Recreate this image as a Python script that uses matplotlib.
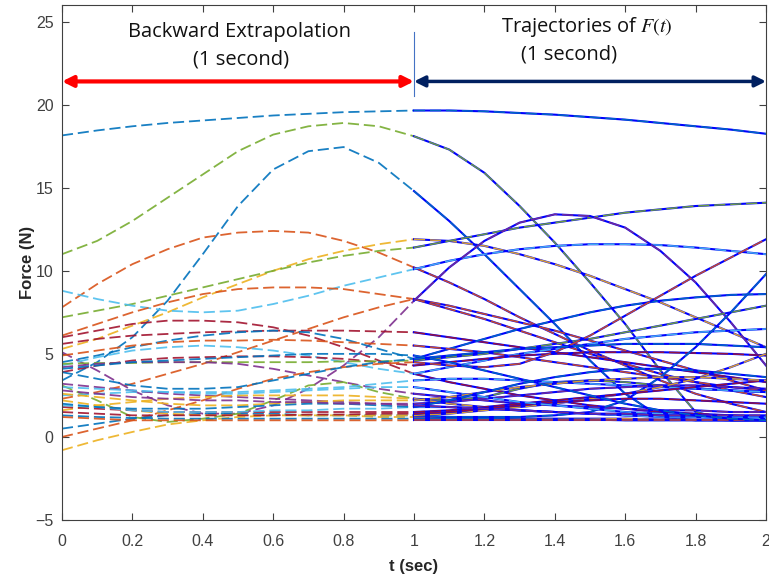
import numpy as np
import matplotlib
matplotlib.use('Agg')
import matplotlib.pyplot as plt

plt.rcParams['lines.scale_dashes'] = False
plt.rcParams['mathtext.fontset'] = 'stix'

# MATLAB default line colours
mcol = {'b': '#0072BD', 'o': '#D95319', 'y': '#EDB120', 'p': '#7E2F8E',
        'g': '#77AC30', 'c': '#4DBEEE', 'm': '#A2142F'}

# time grid of the two parts (backward extrapolation / trajectory)
t_back = [0.0, 0.1, 0.2, 0.3, 0.4, 0.5, 0.6, 0.7, 0.8, 0.9, 1.0]
t_fwd = [1.0, 1.1, 1.2, 1.3, 1.4, 1.5, 1.6, 1.7, 1.8, 1.9, 2.0]

# colour of each curve
curve_colors = ['b', 'g', 'b', 'o', 'y', 'g', 'c', 'o', 'o', 'p',
                'm', 'm', 'b', 'o', 'c', 'm', 'g', 'p', 'o', 'y',
                'b', 'g', 'b', 'c', 'p', 'y', 'y', 'm', 'c', 'b',
                'o', 'm', 'c', 'y', 'b', 'p', 'b']

# force, t = 0 .. 1 (dashed part)
backward = [
    [18.15, 18.45, 18.7, 18.9, 19.05, 19.2, 19.35, 19.45, 19.55, 19.6, 19.65],
    [11.0, 11.8, 13.0, 14.4, 15.8, 17.2, 18.2, 18.7, 18.9, 18.7, 18.1],
    [3.4, 4.5, 6.0, 8.2, 11.0, 13.9, 16.1, 17.2, 17.45, 16.5, 14.8],
    [7.8, 9.2, 10.4, 11.3, 12.0, 12.3, 12.4, 12.3, 11.8, 11.1, 10.2],
    [5.3, 5.9, 6.7, 7.5, 8.4, 9.2, 10.0, 10.7, 11.2, 11.6, 11.9],
    [7.2, 7.6, 8.0, 8.5, 9.0, 9.5, 10.0, 10.5, 10.9, 11.2, 11.4],
    [8.8, 8.3, 7.9, 7.6, 7.5, 7.6, 8.0, 8.5, 9.1, 9.6, 10.1],
    [6.1, 6.8, 7.5, 8.1, 8.6, 8.9, 9.0, 9.0, 8.9, 8.6, 8.3],
    [2.3, 2.7, 3.2, 3.8, 4.4, 5.1, 5.8, 6.5, 7.2, 7.8, 8.3],
    [5.1, 4.0, 2.8, 1.9, 1.4, 1.4, 1.9, 2.9, 4.3, 6.0, 8.2],
    [6.0, 6.4, 6.8, 7.0, 7.0, 6.9, 6.6, 6.1, 5.4, 4.6, 3.8],
    [5.6, 5.9, 6.1, 6.2, 6.3, 6.35, 6.4, 6.4, 6.4, 6.35, 6.3],
    [4.5, 4.9, 5.4, 5.8, 6.1, 6.3, 6.4, 6.3, 5.9, 5.3, 4.7],
    [4.9, 5.2, 5.5, 5.7, 5.8, 5.8, 5.85, 5.8, 5.7, 5.6, 5.5],
    [4.3, 4.8, 5.2, 5.4, 5.5, 5.4, 5.2, 4.9, 4.5, 4.1, 3.8],
    [3.9, 4.3, 4.6, 4.75, 4.8, 4.85, 4.85, 4.8, 4.7, 4.5, 4.3],
    [4.4, 4.45, 4.45, 4.5, 4.5, 4.5, 4.5, 4.5, 4.55, 4.55, 4.6],
    [4.2, 4.4, 4.5, 4.5, 4.5, 4.4, 4.1, 3.7, 3.3, 2.9, 2.6],
    [0.0, 0.5, 1.0, 1.6, 2.2, 2.9, 3.5, 3.9, 4.2, 4.4, 4.5],
    [-0.8, -0.2, 0.3, 0.75, 1.0, 1.2, 1.3, 1.3, 1.3, 1.2, 1.2],
    [0.5, 0.8, 1.1, 1.3, 1.4, 1.4, 1.4, 1.3, 1.3, 1.3, 1.3],
    [3.1, 2.2, 1.2, 0.9, 1.1, 1.4, 2.2, 3.1, 3.3, 2.7, 2.3],
    [3.9, 3.5, 3.1, 2.9, 2.9, 3.0, 3.4, 3.8, 4.2, 4.5, 4.7],
    [2.5, 2.6, 2.7, 2.7, 2.7, 2.7, 2.8, 2.9, 3.0, 3.2, 3.4],
    [3.2, 3.0, 2.8, 2.6, 2.5, 2.4, 2.3, 2.2, 2.1, 2.0, 2.0],
    [1.6, 1.9, 2.1, 2.3, 2.4, 2.5, 2.5, 2.5, 2.5, 2.4, 2.3],
    [2.2, 1.9, 1.6, 1.4, 1.3, 1.3, 1.3, 1.3, 1.3, 1.3, 1.3],
    [1.8, 1.7, 1.6, 1.5, 1.5, 1.5, 1.5, 1.5, 1.5, 1.5, 1.5],
    [1.9, 1.8, 1.6, 1.5, 1.5, 1.5, 1.6, 1.6, 1.7, 1.7, 1.8],
    [1.3, 1.2, 1.15, 1.1, 1.1, 1.1, 1.1, 1.1, 1.1, 1.1, 1.1],
    [1.2, 1.1, 1.0, 1.0, 1.0, 1.0, 1.0, 1.0, 1.0, 1.0, 1.0],
    [1.5, 1.4, 1.3, 1.3, 1.3, 1.3, 1.3, 1.35, 1.35, 1.4, 1.4],
    [3.0, 2.9, 2.8, 2.7, 2.6, 2.6, 2.7, 2.8, 2.9, 3.0, 3.0],
    [2.6, 2.4, 2.2, 2.0, 1.9, 1.9, 2.0, 2.1, 2.2, 2.2, 2.2],
    [2.0, 1.8, 1.7, 1.7, 1.7, 1.8, 1.9, 2.0, 2.0, 1.9, 1.8],
    [2.8, 2.6, 2.4, 2.3, 2.2, 2.2, 2.1, 2.1, 2.0, 2.0, 1.9],
    [4.1, 4.3, 4.5, 4.6, 4.7, 4.8, 4.9, 5.0, 5.0, 5.0, 4.9],
]

# force, t = 1 .. 2 (trajectory part)
forward = [
    [19.65, 19.65, 19.6, 19.5, 19.4, 19.25, 19.1, 18.9, 18.7, 18.5, 18.25],
    [18.1, 17.3, 15.9, 13.9, 11.7, 9.3, 6.8, 4.0, 1.5, 1.0, 1.0],
    [14.8, 13.0, 11.0, 8.9, 6.8, 4.6, 2.6, 1.2, 1.0, 1.0, 1.0],
    [10.2, 9.3, 8.3, 7.2, 6.2, 5.2, 4.3, 3.4, 2.6, 2.0, 1.5],
    [11.9, 11.8, 11.5, 11.0, 10.4, 9.7, 8.9, 8.1, 7.2, 6.3, 5.4],
    [11.4, 11.8, 12.2, 12.6, 12.9, 13.2, 13.5, 13.7, 13.9, 14.0, 14.1],
    [10.1, 10.6, 11.0, 11.3, 11.5, 11.6, 11.6, 11.55, 11.4, 11.2, 11.0],
    [8.3, 7.9, 7.4, 6.9, 6.4, 5.8, 5.2, 4.6, 4.0, 3.4, 2.8],
    [8.3, 7.7, 7.1, 6.4, 5.7, 5.0, 4.4, 3.8, 3.3, 2.8, 2.4],
    [8.2, 10.2, 11.8, 12.9, 13.4, 13.3, 12.6, 11.2, 9.3, 6.9, 4.3],
    [3.8, 3.3, 2.9, 2.5, 2.2, 1.9, 1.7, 1.5, 1.4, 1.3, 1.2],
    [6.3, 6.0, 5.7, 5.4, 5.1, 4.8, 4.5, 4.2, 3.9, 3.6, 3.3],
    [4.7, 5.3, 5.9, 6.5, 7.0, 7.5, 7.9, 8.2, 8.4, 8.55, 8.6],
    [5.5, 5.3, 5.1, 4.8, 4.5, 4.2, 3.9, 3.6, 3.3, 3.0, 2.8],
    [3.8, 4.2, 4.6, 5.0, 5.3, 5.6, 5.9, 6.1, 6.3, 6.4, 6.5],
    [4.3, 4.5, 4.7, 4.9, 5.0, 5.1, 5.1, 5.1, 5.05, 5.0, 4.9],
    [4.6, 4.8, 5.0, 5.3, 5.6, 5.9, 6.3, 6.7, 7.1, 7.5, 7.9],
    [2.6, 2.4, 2.2, 2.0, 1.9, 1.8, 1.7, 1.6, 1.6, 1.5, 1.5],
    [4.5, 4.3, 4.2, 4.4, 5.1, 6.1, 7.3, 8.5, 9.7, 10.8, 11.9],
    [1.2, 1.2, 1.15, 1.1, 1.1, 1.1, 1.1, 1.05, 1.05, 1.0, 1.0],
    [1.3, 1.2, 1.2, 1.2, 1.3, 1.5, 2.2, 3.6, 5.4, 7.5, 9.8],
    [2.3, 2.2, 2.4, 2.9, 3.3, 3.4, 3.3, 3.1, 2.9, 2.8, 2.7],
    [4.7, 4.9, 5.1, 5.3, 5.4, 5.5, 5.6, 5.6, 5.6, 5.5, 5.4],
    [3.4, 3.5, 3.5, 3.4, 3.3, 3.2, 3.1, 3.0, 2.9, 2.8, 2.7],
    [2.0, 2.1, 2.3, 2.5, 2.7, 2.9, 3.0, 3.1, 3.1, 3.0, 2.9],
    [2.3, 2.0, 1.8, 1.6, 1.5, 1.4, 1.3, 1.3, 1.2, 1.2, 1.2],
    [1.3, 1.4, 1.6, 1.8, 2.0, 2.3, 2.6, 3.0, 3.5, 4.2, 5.0],
    [1.5, 1.6, 1.8, 2.0, 2.2, 2.4, 2.6, 2.8, 3.0, 3.2, 3.4],
    [1.8, 1.8, 1.7, 1.6, 1.5, 1.4, 1.3, 1.2, 1.2, 1.1, 1.1],
    [1.1, 1.1, 1.1, 1.05, 1.05, 1.05, 1.0, 1.0, 1.0, 1.0, 1.0],
    [1.0, 1.0, 1.0, 1.0, 1.0, 1.0, 1.0, 1.0, 1.0, 1.0, 1.0],
    [1.4, 1.5, 1.7, 1.9, 2.1, 2.2, 2.3, 2.3, 2.2, 2.1, 2.0],
    [3.0, 2.7, 2.4, 2.1, 1.9, 1.7, 1.5, 1.4, 1.3, 1.2, 1.2],
    [2.2, 2.4, 2.7, 3.0, 3.2, 3.4, 3.5, 3.6, 3.6, 3.5, 3.4],
    [1.8, 2.2, 2.7, 3.2, 3.6, 3.9, 4.1, 4.1, 4.0, 3.8, 3.6],
    [1.9, 1.8, 1.7, 1.6, 1.5, 1.4, 1.4, 1.3, 1.3, 1.3, 1.3],
    [4.9, 4.5, 4.0, 3.5, 3.0, 2.5, 2.0, 1.6, 1.3, 1.1, 1.0],
]

x_ticks = [0, 0.2, 0.4, 0.6, 0.8, 1.0, 1.2, 1.4, 1.6, 1.8, 2.0]
x_ticklabels = ['0', '0.2', '0.4', '0.6', '0.8', '1', '1.2', '1.4', '1.6', '1.8', '2']
y_ticks = [-5, 0, 5, 10, 15, 20, 25]
arrow_y = 21.4

fig = plt.figure(figsize=(7.69, 5.77), dpi=100)
ax = fig.add_axes([0.0806, 0.0988, 0.9155, 0.8925])

dash = (0, (8, 3.5))
for c, fb in zip(curve_colors, backward):
    ax.plot(t_back, fb, color=mcol[c], lw=1.3, linestyle=dash, alpha=0.9)

for c, ff in zip(curve_colors, forward):
    ax.plot(t_fwd, ff, color='#0000FF', lw=1.5)
    ax.plot(t_fwd, ff, color=mcol[c], lw=1.1, linestyle=dash, alpha=0.9)

# arrows and separator
ax.annotate('', xy=(0, arrow_y), xytext=(1, arrow_y),
            arrowprops=dict(arrowstyle='<|-|>', color='#FF0000', lw=3,
                            mutation_scale=16, shrinkA=0, shrinkB=0))
ax.annotate('', xy=(1, arrow_y), xytext=(2, arrow_y),
            arrowprops=dict(arrowstyle='<|-|>', color='#002060', lw=2.5,
                            mutation_scale=16, shrinkA=0, shrinkB=0))
ax.plot([1, 1], [20.5, 24.4], color='#4472C4', lw=0.8)

txt = dict(ha='center', va='center', fontsize=14.5, family='Open Sans', color='#111111')
ax.text(0.503, 24.4, 'Backward Extrapolation', **txt)
ax.text(0.51, 22.75, '(1 second)', **txt)
ax.text(1.49, 24.65, 'Trajectories of $F(t)$', **txt)
ax.text(1.44, 23.05, '(1 second)', **txt)

ax.set_xlim(0, 2)
ax.set_ylim(-5, 26)
ax.set_xticks(x_ticks)
ax.set_xticklabels(x_ticklabels)
ax.set_yticks(y_ticks)
ax.tick_params(direction='in', top=True, right=True, length=5, width=0.8,
               labelsize=11.5, colors='#404040', labelcolor='#404040')
ax.tick_params(axis='x', pad=10)
ax.tick_params(axis='y', pad=6)
for lab in ax.get_xticklabels() + ax.get_yticklabels():
    lab.set_family('Liberation Sans')
for s in ax.spines.values():
    s.set_color('#404040')
    s.set_linewidth(0.8)

ax.set_xlabel('t (sec)', fontsize=12, fontweight='bold', family='Liberation Sans',
              color='#262626', labelpad=7)
ax.set_ylabel('Force (N)', fontsize=12, fontweight='bold', family='Liberation Sans',
              color='#262626', labelpad=0)

fig.savefig('out.png', dpi=100)
